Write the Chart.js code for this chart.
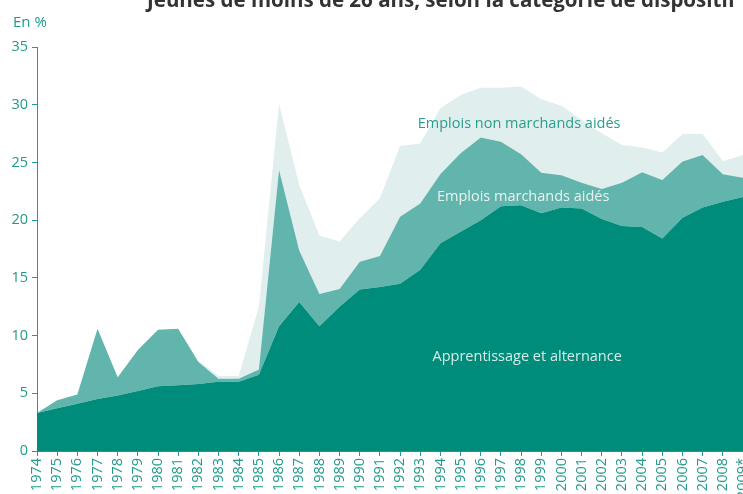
<!DOCTYPE html>
<html>
<head>
<meta charset="utf-8">
<script src="https://cdn.jsdelivr.net/npm/chart.js@4/dist/chart.umd.min.js"></script>
<style>
  html, body { margin: 0; padding: 0; background: #fff; overflow: hidden; }
  #wrap { width: 743px; height: 494px; position: relative; }
</style>
</head>
<body>
<div id="wrap"><canvas id="c" width="743" height="494"></canvas></div>
<script>
var years = ['1974', '1975', '1976', '1977', '1978', '1979', '1980', '1981', '1982', '1983',
  '1984', '1985', '1986', '1987', '1988', '1989', '1990', '1991', '1992', '1993',
  '1994', '1995', '1996', '1997', '1998', '1999', '2000', '2001', '2002', '2003',
  '2004', '2005', '2006', '2007', '2008', '2009*'];

// apprentissage et alternance
var apprentissage = [3.3, 3.7, 4.1, 4.5, 4.8, 5.2, 5.6, 5.7, 5.8, 6.0,
  6.0, 6.6, 10.8, 12.9, 10.8, 12.5, 14.0, 14.2, 14.5, 15.7,
  18.0, 19.0, 20.0, 21.2, 21.3, 20.6, 21.1, 21.0, 20.1, 19.5,
  19.4, 18.4, 20.2, 21.1, 21.6, 22.0];

// emplois marchands aidés
var marchands = [0, 0.7, 0.8, 6.1, 1.6, 3.55, 4.9, 4.9, 1.9, 0.25,
  0.25, 0.45, 13.55, 4.46, 2.8, 1.54, 2.4, 2.7, 5.8, 5.75,
  6.0, 6.8, 7.15, 5.6, 4.4, 3.5, 2.8, 2.25, 2.6, 3.75,
  4.75, 5.08, 4.87, 4.55, 2.37, 1.68];

// emplois non marchands aidés
var nonMarchands = [0, 0, 0, 0, 0, 0, 0, 0, 0.1, 0.25,
  0.25, 5.45, 5.72, 5.69, 5.06, 4.1, 3.76, 5.0, 6.13, 5.18,
  5.7, 5.05, 4.33, 4.68, 5.87, 6.37, 6.0, 5.43, 4.83, 3.25,
  2.15, 2.37, 2.4, 1.82, 1.13, 1.97];

var yTicks = [0, 5, 10, 15, 20, 25, 30, 35];

var teal = '#1f9a8b';
var font = '"Open Sans", sans-serif';

var textPlugin = {
  id: 'texts',
  afterDraw: function(chart) {
    var ctx = chart.ctx;
    var x = chart.scales.x, y = chart.scales.y;
    ctx.save();
    ctx.textBaseline = 'alphabetic';
    ctx.textAlign = 'left';
    ctx.fillStyle = '#333';
    ctx.font = 'bold 20.5px ' + font;
    ctx.fillText('Jeunes de moins de 26 ans, selon la catégorie de dispositif', 147, 7);
    ctx.fillStyle = teal;
    ctx.font = '15px ' + font;
    ctx.fillText('En %', 13, 27);

    ctx.textAlign = 'center';
    ctx.textBaseline = 'middle';
    ctx.font = '14.5px ' + font;
    ctx.fillStyle = '#2a9d8f';
    ctx.fillText('Emplois non marchands aidés', x.getPixelForValue(23.9), y.getPixelForValue(28.3));
    ctx.fillStyle = '#e6f3f1';
    ctx.fillText('Emplois marchands aidés', x.getPixelForValue(24.1), y.getPixelForValue(22.0));
    ctx.fillStyle = '#d4ece8';
    ctx.fillText('Apprentissage et alternance', x.getPixelForValue(24.3), y.getPixelForValue(8.15));
    ctx.restore();
  }
};

var ctx = document.getElementById('c').getContext('2d');
new Chart(ctx, {
  type: 'line',
  data: {
    labels: years,
    datasets: [
      { label: 'Apprentissage et alternance', data: apprentissage, backgroundColor: '#008c7a', fill: 'origin' },
      { label: 'Emplois marchands aidés', data: marchands, backgroundColor: '#62b5ac', fill: '-1' },
      { label: 'Emplois non marchands aidés', data: nonMarchands, backgroundColor: '#e0eeed', fill: '-1' }
    ]
  },
  options: {
    responsive: false,
    animation: false,
    layout: { padding: { top: 47, right: 0, left: 0, bottom: 0 } },
    elements: {
      point: { radius: 0 },
      line: { borderWidth: 0, tension: 0 }
    },
    plugins: {
      legend: { display: false },
      tooltip: { enabled: false },
      filler: { propagate: false }
    },
    scales: {
      x: {
        offset: false,
        grid: { display: true, drawOnChartArea: false, drawTicks: true, tickLength: 5, color: teal },
        border: { display: true, color: teal },
        ticks: {
          color: teal, font: { family: font, size: 14.5 },
          minRotation: 90, maxRotation: 90, autoSkip: false, padding: 2
        },
        afterFit: function(s) { s.height = 43; s.paddingLeft = 0; s.paddingRight = 0; }
      },
      y: {
        stacked: true,
        min: 0, max: 35,
        afterBuildTicks: function(s) { s.ticks = yTicks.map(function(v) { return { value: v }; }); },
        grid: { display: true, drawOnChartArea: false, drawTicks: true, tickLength: 5, color: teal },
        border: { display: true, color: teal },
        ticks: { color: teal, font: { family: font, size: 14.5 }, padding: 4 },
        afterFit: function(s) { s.width = 37; s.paddingTop = 0; s.paddingBottom = 0; }
      }
    }
  },
  plugins: [textPlugin]
});
</script>
</body>
</html>
